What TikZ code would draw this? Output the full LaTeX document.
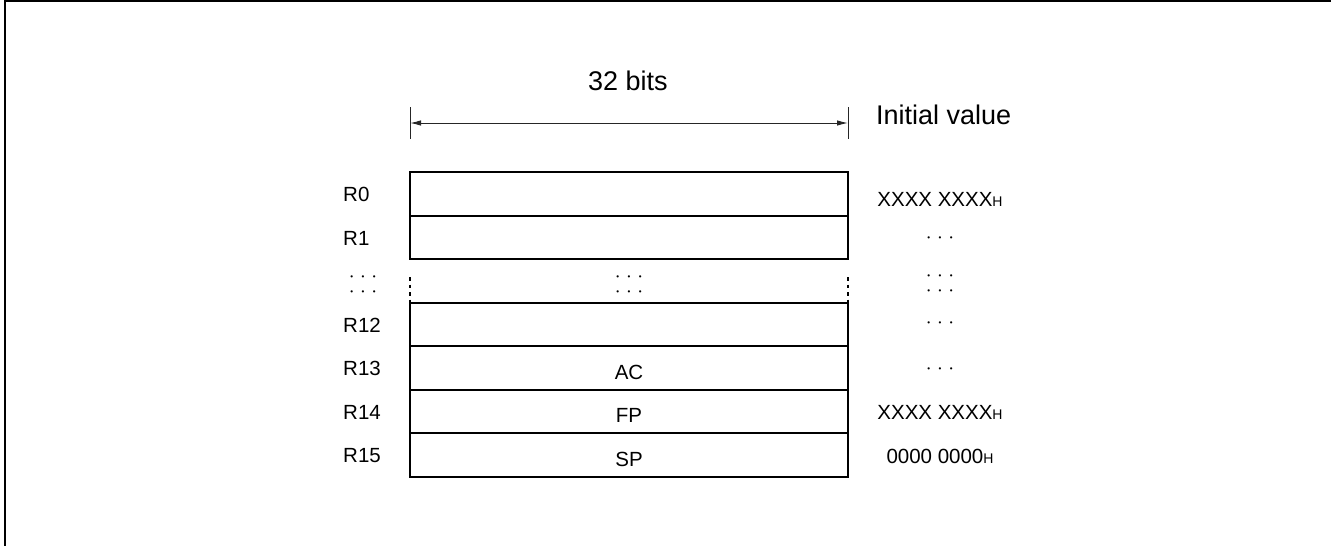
\documentclass[tikz,border=0pt]{standalone}
\usepackage{fontspec}
\setmainfont{Liberation Sans}
\usetikzlibrary{arrows.meta}
\newcommand{\hsuf}{{\fontsize{14}{16}\selectfont H}}
\newcommand{\tdots}{•\hspace{8.5pt}•\hspace{8.5pt}•}
\begin{document}
\begin{tikzpicture}[x=1pt,y=-1pt,
  big/.style={font=\fontsize{27}{32}\selectfont, inner sep=0pt},
  lab/.style={font=\fontsize{20.5}{24}\selectfont, inner sep=0pt, anchor=base west},
  val/.style={font=\fontsize{20.5}{24}\selectfont, inner sep=0pt, anchor=base},
  dotrow/.style={font=\fontsize{8}{9}\selectfont, inner sep=0pt, anchor=base},
  regrow/.style={draw, line width=2pt, minimum width=438pt, minimum height=43.5pt, inner sep=0pt},
  dimline/.style={line width=1pt, draw=black!85},
  tick/.style={line width=1pt, draw=black!85},
  dotedge/.style={line width=2pt, dash pattern=on 3.5pt off 4pt}]
\useasboundingbox (0,0) rectangle (1331,546);
% frame
\coordinate (fb) at (5,546);
\coordinate (ftl) at (5,1);
\coordinate (ftr) at (1331,1);
\draw[line width=2pt] (fb) -- (ftl) -- (ftr);

% dimension
\coordinate (t1a) at (410,107);
\coordinate (t1b) at (410,139);
\coordinate (t2a) at (848,107);
\coordinate (t2b) at (848,139);
\coordinate (al) at (410,123);
\coordinate (ar) at (848,123);
\draw[tick] (t1a) -- (t1b);
\draw[tick] (t2a) -- (t2b);
\draw[dimline, {Latex[length=11pt,width=5.5pt]}-{Latex[length=11pt,width=5.5pt]}] (al) -- (ar);
\node[big, anchor=base] (bits) at (628,90) {32 bits};
\node[big, anchor=base west] (init) at (876,124) {Initial value};

% register rows
\node[regrow] (row0) at (629,193.75) {};
\node[regrow] (row1) at (629,237.25) {};
\node[regrow] (row12) at (629,324.25) {};
\node[regrow] (row13) at (629,367.75) {};
\node[regrow] (row14) at (629,411.25) {};
\node[regrow] (row15) at (629,454.75) {};

% dotted gap edges
\coordinate (dl1) at (410,277);
\coordinate (dl2) at (410,302.5);
\coordinate (dr1) at (848,277);
\coordinate (dr2) at (848,302.5);
\draw[dotedge] (dl1) -- (dl2);
\draw[dotedge] (dr1) -- (dr2);

% labels
\node[lab] (l0) at (343,201.7) {R0};
\node[lab] (l1) at (343,245.2) {R1};
\node[lab] (l12) at (343,332.2) {R12};
\node[lab] (l13) at (343,375.7) {R13};
\node[lab] (l14) at (343,419.2) {R14};
\node[lab] (l15) at (343,462.7) {R15};
\node[dotrow] (ld1) at (363,279.3) {\tdots};
\node[dotrow] (ld2) at (363,294.3) {\tdots};

% contents
\node[dotrow] (cd1) at (629,279.3) {\tdots};
\node[dotrow] (cd2) at (629,294.3) {\tdots};
\node[val] (ac) at (629,379.2) {AC};
\node[val] (fp) at (629,422.7) {FP};
\node[val] (sp) at (629,466.2) {SP};

% initial values
\node[val] (v0) at (940,206) {XXXX XXXX\hsuf};
\node[dotrow] (v1) at (940,240.9) {\tdots};
\node[dotrow] (vd1) at (940,278.3) {\tdots};
\node[dotrow] (vd2) at (940,293.3) {\tdots};
\node[dotrow] (v12) at (940,325.9) {\tdots};
\node[dotrow] (v13) at (940,371.6) {\tdots};
\node[val] (v14) at (940,419.3) {XXXX XXXX\hsuf};
\node[val] (v15) at (940,463.3) {0000 0000\hsuf};
\end{tikzpicture}
\end{document}
